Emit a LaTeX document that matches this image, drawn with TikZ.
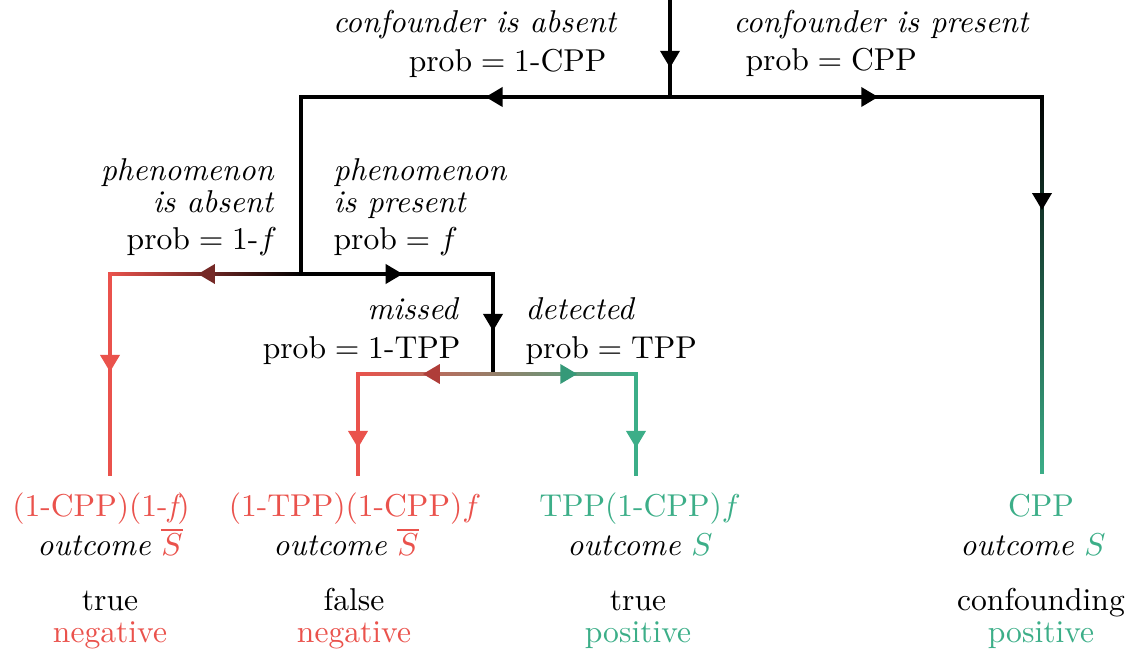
\documentclass[tikz,border=0pt]{standalone}
\usepackage{amsmath,amssymb}
\usetikzlibrary{arrows.meta,decorations.markings,calc}

\definecolor{negred}{RGB}{234,82,76}
\definecolor{posgreen}{RGB}{60,174,136}

\tikzset{
  wire/.style={line width=1.2pt, line cap=rect},
  midarrow/.style 2 args={line width=1.2pt, postaction={decorate,decoration={markings,
      mark=at position #1 with {\arrow{Triangle[width=6pt,length=5.4pt,color=#2]}}}}},
  lbl/.style={inner sep=0pt},
}

\begin{document}
\begin{tikzpicture}[x=0.011123cm,y=-0.011123cm]
    \useasboundingbox (0,0) rectangle (1132,655);

    % junctions of the tree
    \coordinate (root)  at (670,0);
    \coordinate (c0)    at (670,97);
    \coordinate (cAbs)  at (301,97);
    \coordinate (cPres) at (1042,97);
    \coordinate (p0)    at (301,274);
    \coordinate (pAbs)  at (110,274);
    \coordinate (pPres) at (493,274);
    \coordinate (d0)    at (493,374);
    \coordinate (dMiss) at (358,374);
    \coordinate (dDet)  at (636,374);
    \coordinate (leafA) at (110,474);
    \coordinate (leafB) at (358,474);
    \coordinate (leafC) at (636,474);
    \coordinate (leafD) at (1042,474);

    % confounder
    \draw[wire] (root) -- (c0);
    \draw[wire] (cAbs) -- (cPres);
    \draw[wire] (cAbs) -- (p0);
    \shade[top color=black, bottom color=posgreen] ($(cPres)+(-0.6pt,0.6pt)$) rectangle ($(leafD)+(0.6pt,0pt)$);
    \path[midarrow={0.70}{black}] (root) -- (c0);
    \path[midarrow={0.50}{black}] (c0) -- (cAbs);
    \path[midarrow={0.56}{black}] (c0) -- (cPres);
    \path[midarrow={0.30}{black}] (cPres) -- (leafD);

    % phenomenon
    \shade[left color=negred, right color=black] ($(pAbs)+(-0.6pt,-0.6pt)$) rectangle ($(p0)+(0pt,0.6pt)$);
    \draw[wire] (p0) -- (pPres) -- (d0);
    \draw[wire, negred] (pAbs) -- (leafA);
    \path[midarrow={0.54}{negred!50!black}] (p0) -- (pAbs);
    \path[midarrow={0.53}{black}] (p0) -- (pPres);
    \path[midarrow={0.57}{black}] (pPres) -- (d0);
    \path[midarrow={0.49}{negred}] (pAbs) -- (leafA);

    % detection
    \shade[left color=negred, right color=posgreen] ($(dMiss)+(-0.6pt,-0.6pt)$) rectangle ($(dDet)+(0.6pt,0.6pt)$);
    \draw[wire, negred] (dMiss) -- (leafB);
    \draw[wire, posgreen] (dDet) -- (leafC);
    \path[midarrow={0.52}{negred!75!black}] (d0) -- (dMiss);
    \path[midarrow={0.59}{posgreen!88!black}] (d0) -- (dDet);
    \path[midarrow={0.74}{negred}] (dMiss) -- (leafB);
    \path[midarrow={0.74}{posgreen}] (dDet) -- (leafC);

    % branch labels
    \node[lbl, anchor=base east] (cAbsA) at (618,33) {\textit{confounder is absent}};
    \node[lbl, anchor=base east] (cAbsB) at (607,72) {prob${}={}$1-CPP};
    \node[lbl, anchor=base west] (cPresA) at (733,33) {\textit{confounder is present}};
    \node[lbl, anchor=base west] (cPresB) at (745,71) {prob${}={}$CPP};

    \node[lbl, anchor=base east] (pAbsA) at (275,181) {\textit{phenomenon}};
    \node[lbl, anchor=base east] (pAbsB) at (275,213) {\textit{is absent}};
    \node[lbl, anchor=base east] (pAbsC) at (278,250) {prob${}={}$1-$f$};
    \node[lbl, anchor=base west] (pPresA) at (333,181) {\textit{phenomenon}};
    \node[lbl, anchor=base west] (pPresB) at (333,213) {\textit{is present}};
    \node[lbl, anchor=base west] (pPresC) at (333,250) {prob${}={}$$f$};

    \node[lbl, anchor=base east] (dMissA) at (460,320) {\textit{missed}};
    \node[lbl, anchor=base east] (dMissB) at (461,359) {prob${}={}$1-TPP};
    \node[lbl, anchor=base west] (dDetA) at (525,320) {\textit{detected}};
    \node[lbl, anchor=base west] (dDetB) at (525,359) {prob${}={}$TPP};

    % outcomes
    \node[lbl, anchor=base, negred] (probA) at (101,517) {(1-CPP)(1-{\itshape f})};
    \node[lbl, anchor=base] (outA) at (110,556) {\textit{outcome} \textcolor{negred}{$\overline{S}$}};
    \node[lbl, anchor=base] (kindA) at (110,611) {true};
    \node[lbl, anchor=base, negred] (signA) at (110,643) {negative};

    \node[lbl, anchor=base, negred] (probB) at (355,517) {(1-TPP)(1-CPP)$f$};
    \node[lbl, anchor=base] (outB) at (346,556) {\textit{outcome} \textcolor{negred}{$\overline{S}$}};
    \node[lbl, anchor=base] (kindB) at (354,611) {false};
    \node[lbl, anchor=base, negred] (signB) at (354,643) {negative};

    \node[lbl, anchor=base, posgreen] (probC) at (640,517) {TPP(1-CPP)$f$};
    \node[lbl, anchor=base] (outC) at (640,556) {\textit{outcome} \textcolor{posgreen}{$S$}};
    \node[lbl, anchor=base] (kindC) at (638,611) {true};
    \node[lbl, anchor=base, posgreen] (signC) at (638,643) {positive};

    \node[lbl, anchor=base, posgreen] (probD) at (1041,517) {CPP};
    \node[lbl, anchor=base] (outD) at (1033,556) {\textit{outcome} \textcolor{posgreen}{$S$}};
    \node[lbl, anchor=base] (kindD) at (1041,611) {confounding};
    \node[lbl, anchor=base, posgreen] (signD) at (1041,643) {positive};
\end{tikzpicture}
\end{document}
